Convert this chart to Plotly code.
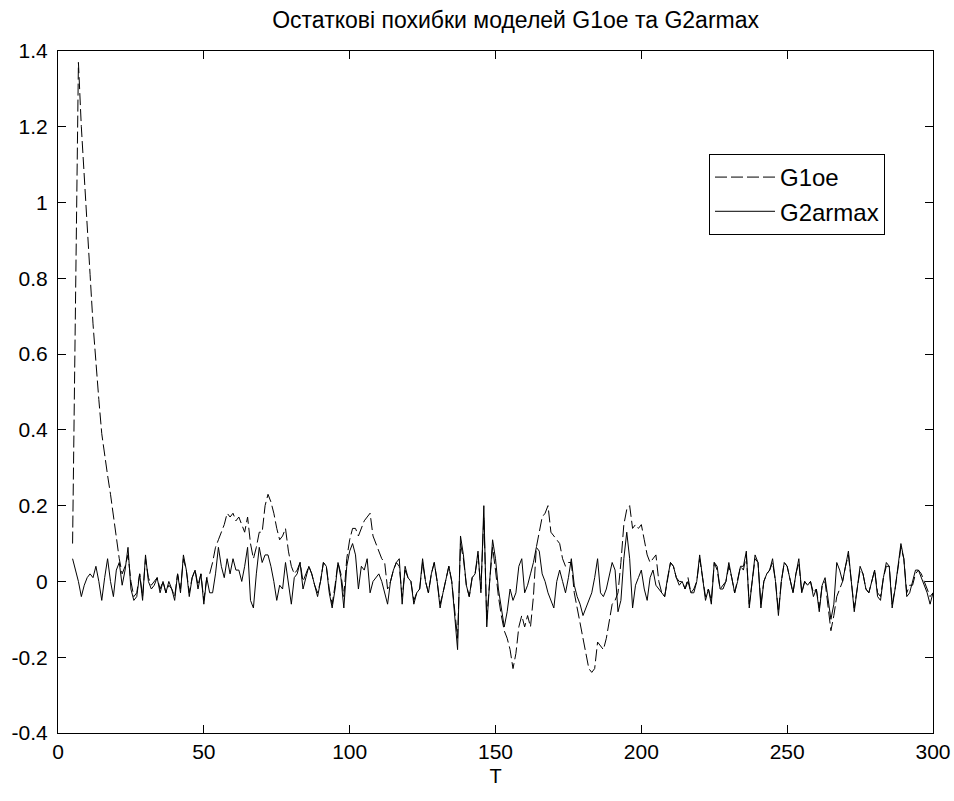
import plotly.graph_objects as go

# time index (samples 5..300)
t = list(range(5, 301))

g1oe = [
    0.10, 0.80, 1.37, 1.20, 1.06, 0.94, 0.81, 0.68, 0.57, 0.48,
    0.39, 0.33, 0.28, 0.23, 0.17, 0.11, 0.06, 0.02, 0.04, 0.07,
    0.00, -0.04, -0.03, 0.02, -0.04, 0.06, 0.01, -0.01, 0.00, 0.01,
    -0.02, 0.00, -0.03, -0.01, -0.02, -0.04, 0.02, -0.02, 0.06, 0.03,
    -0.03, 0.01, 0.03, -0.01, 0.02, -0.05, 0.01, 0.02, 0.05, 0.09,
    0.11, 0.13, 0.15, 0.18, 0.17, 0.18, 0.16, 0.17, 0.15, 0.13,
    0.17, 0.10, 0.06, 0.09, 0.13, 0.13, 0.20, 0.23, 0.21, 0.18,
    0.14, 0.11, 0.12, 0.14, 0.08, 0.04, 0.02, 0.03, 0.05, 0.00,
    0.02, 0.04, 0.02, -0.01, -0.03, 0.00, 0.05, 0.04, -0.02, -0.06,
    -0.01, 0.05, 0.02, -0.04, 0.06, 0.11, 0.14, 0.14, 0.12, 0.14,
    0.16, 0.17, 0.18, 0.12, 0.10, 0.08, 0.06, 0.05, -0.02, 0.00,
    0.03, 0.05, 0.04, -0.04, 0.03, 0.01, 0.00, -0.05, -0.03, -0.02,
    0.05, 0.00, -0.03, 0.02, 0.05, 0.00, -0.06, -0.03, 0.01, 0.04,
    0.00, -0.08, -0.15, 0.10, 0.06, -0.01, -0.04, 0.01, 0.02, 0.07,
    -0.02, 0.17, -0.10, 0.00, 0.09, 0.03, -0.04, -0.09, -0.13, -0.15,
    -0.18, -0.23, -0.19, -0.12, -0.09, -0.12, -0.09, -0.12, -0.04, 0.09,
    0.13, 0.17, 0.18, 0.20, 0.13, 0.12, 0.11, 0.10, 0.06, 0.04,
    0.05, 0.05, -0.03, -0.07, -0.12, -0.15, -0.20, -0.23, -0.24, -0.23,
    -0.16, -0.17, -0.18, -0.15, -0.11, -0.06, -0.05, -0.03, 0.05, 0.15,
    0.19, 0.20, 0.14, 0.15, 0.14, 0.15, 0.11, 0.07, 0.05, 0.06,
    0.07, 0.00, -0.03, -0.04, 0.01, 0.05, 0.04, 0.01, 0.00, 0.00,
    -0.02, 0.01, -0.03, -0.02, 0.00, 0.06, 0.01, -0.04, -0.02, -0.05,
    0.05, 0.03, -0.02, -0.01, 0.00, 0.04, 0.01, -0.03, 0.01, 0.04,
    0.03, 0.07, -0.06, 0.00, 0.06, 0.05, -0.06, 0.00, 0.02, 0.03,
    0.05, 0.00, -0.08, 0.00, 0.05, 0.04, 0.00, -0.03, 0.02, 0.05,
    -0.03, 0.00, -0.01, 0.00, -0.03, -0.02, -0.07, -0.01, 0.00, -0.07,
    -0.13, -0.09, -0.04, -0.02, 0.00, 0.04, 0.07, 0.00, -0.07, -0.02,
    0.03, 0.02, -0.02, -0.03, 0.00, 0.03, -0.03, -0.04, 0.01, 0.04,
    0.04, -0.06, -0.02, 0.04, 0.09, 0.06, -0.03, -0.01, -0.01, 0.02,
    0.03, 0.02, 0.00, -0.02, -0.04, -0.03,
]

g2armax = [
    0.06, 0.03, 0.00, -0.04, -0.01, 0.01, 0.02, 0.01, 0.04, 0.00,
    -0.05, 0.01, 0.06, 0.00, -0.04, 0.03, 0.05, -0.01, 0.03, 0.09,
    -0.02, -0.05, -0.04, 0.02, -0.05, 0.07, 0.00, -0.02, -0.01, 0.01,
    -0.03, 0.00, -0.03, 0.00, -0.02, -0.05, 0.02, -0.03, 0.07, 0.03,
    -0.04, 0.01, 0.03, -0.02, 0.02, -0.06, 0.01, -0.03, -0.03, 0.02,
    0.09, 0.04, 0.01, 0.06, 0.02, 0.06, 0.03, 0.03, 0.00, 0.04,
    0.09, -0.05, -0.07, 0.02, 0.09, 0.05, 0.07, 0.07, 0.04, 0.00,
    -0.05, -0.01, -0.02, 0.05, 0.00, -0.06, 0.01, 0.02, 0.05, -0.02,
    0.01, 0.04, 0.02, -0.01, -0.04, 0.00, 0.05, 0.04, -0.03, -0.07,
    -0.02, 0.05, 0.01, -0.07, 0.04, 0.08, 0.10, 0.07, -0.02, 0.04,
    0.03, 0.06, -0.03, 0.00, 0.01, 0.02, 0.00, -0.03, -0.06, 0.00,
    0.03, 0.05, 0.06, -0.06, 0.04, 0.01, 0.00, -0.06, -0.03, -0.02,
    0.06, 0.00, -0.03, 0.02, 0.05, 0.00, -0.07, -0.03, 0.01, 0.04,
    0.00, -0.09, -0.18, 0.12, 0.07, -0.01, -0.04, 0.01, 0.02, 0.08,
    -0.03, 0.20, -0.12, 0.00, 0.11, 0.06, -0.02, -0.07, -0.12, -0.08,
    -0.02, -0.05, -0.03, 0.04, 0.06, -0.03, -0.01, 0.02, 0.05, 0.09,
    0.08, 0.02, 0.00, -0.03, -0.05, -0.07, 0.00, 0.03, 0.00, -0.03,
    0.01, 0.06, -0.01, -0.04, -0.06, -0.09, -0.07, -0.05, -0.03, 0.01,
    0.06, -0.03, -0.04, -0.02, 0.02, 0.05, 0.03, -0.08, -0.05, 0.06,
    0.13, 0.06, -0.07, -0.01, 0.01, 0.03, -0.02, -0.05, 0.01, 0.03,
    -0.01, -0.02, -0.03, -0.04, 0.01, 0.05, 0.04, 0.01, -0.01, 0.00,
    -0.02, 0.00, -0.03, -0.03, 0.00, 0.07, 0.01, -0.05, -0.02, -0.06,
    0.05, 0.04, -0.02, -0.02, 0.00, 0.05, 0.01, -0.03, 0.00, 0.04,
    0.04, 0.08, -0.07, 0.00, 0.07, 0.05, -0.07, 0.00, 0.02, 0.03,
    0.06, 0.00, -0.09, 0.00, 0.05, 0.04, 0.00, -0.03, 0.02, 0.06,
    -0.03, 0.00, -0.01, 0.00, -0.04, -0.02, -0.08, -0.01, 0.01, -0.04,
    -0.10, -0.06, 0.05, 0.03, 0.00, 0.04, 0.08, 0.00, -0.08, -0.02,
    0.04, 0.02, -0.02, -0.03, 0.00, 0.03, -0.04, -0.05, 0.01, 0.05,
    0.04, -0.07, -0.02, 0.04, 0.10, 0.06, -0.04, -0.03, 0.00, 0.03,
    0.03, 0.01, -0.01, -0.03, -0.06, -0.03,
]

x_ticks = [0, 50, 100, 150, 200, 250, 300]
y_ticks = [-0.4, -0.2, 0, 0.2, 0.4, 0.6, 0.8, 1, 1.2, 1.4]
y_tick_text = ["-0.4", "-0.2", "0", "0.2", "0.4", "0.6", "0.8", "1", "1.2", "1.4"]

title_text = "Остаткові похибки моделей G1oe та G2armax"
x_label = "T"

font_main = "Liberation Sans, Arial, sans-serif"

fig = go.Figure()
fig.add_trace(go.Scatter(
    x=t, y=g1oe, mode="lines", name="G1oe", legendgroup="a",
    line=dict(color="black", width=1, dash="12px,4px"),
))
fig.add_trace(go.Scatter(
    x=t, y=g2armax, mode="lines", name="G2armax", legendgroup="b",
    line=dict(color="black", width=1),
))

axis_common = dict(
    showgrid=False, zeroline=False, showline=True, linecolor="black",
    linewidth=1, mirror="ticks", ticks="inside", ticklen=8,
    tickcolor="black", tickwidth=1,
    tickfont=dict(family=font_main, size=21, color="black"),
)

fig.update_layout(
    width=954, height=801,
    margin=dict(l=58, r=21, t=51, b=68, autoexpand=False),
    paper_bgcolor="white", plot_bgcolor="white",
    title=dict(text=title_text, x=0.523, xref="paper", xanchor="center",
               y=0.975, yanchor="middle",
               font=dict(family=font_main, size=23, color="black")),
    xaxis=dict(range=[0, 300], tickvals=x_ticks,
               title=dict(text=x_label, standoff=6,
                          font=dict(family=font_main, size=20, color="black")),
               **axis_common),
    yaxis=dict(range=[-0.4, 1.4], tickvals=y_ticks, ticktext=y_tick_text,
               ticklabelstandoff=5, **axis_common),
    showlegend=True,
    legend=dict(x=0.744, y=0.849, xanchor="left", yanchor="top",
                orientation="v",
                bgcolor="white", bordercolor="black", borderwidth=1,
                font=dict(family=font_main, size=24, color="black"),
                itemwidth=60, tracegroupgap=0),
)

fig.write_html("out.html")
